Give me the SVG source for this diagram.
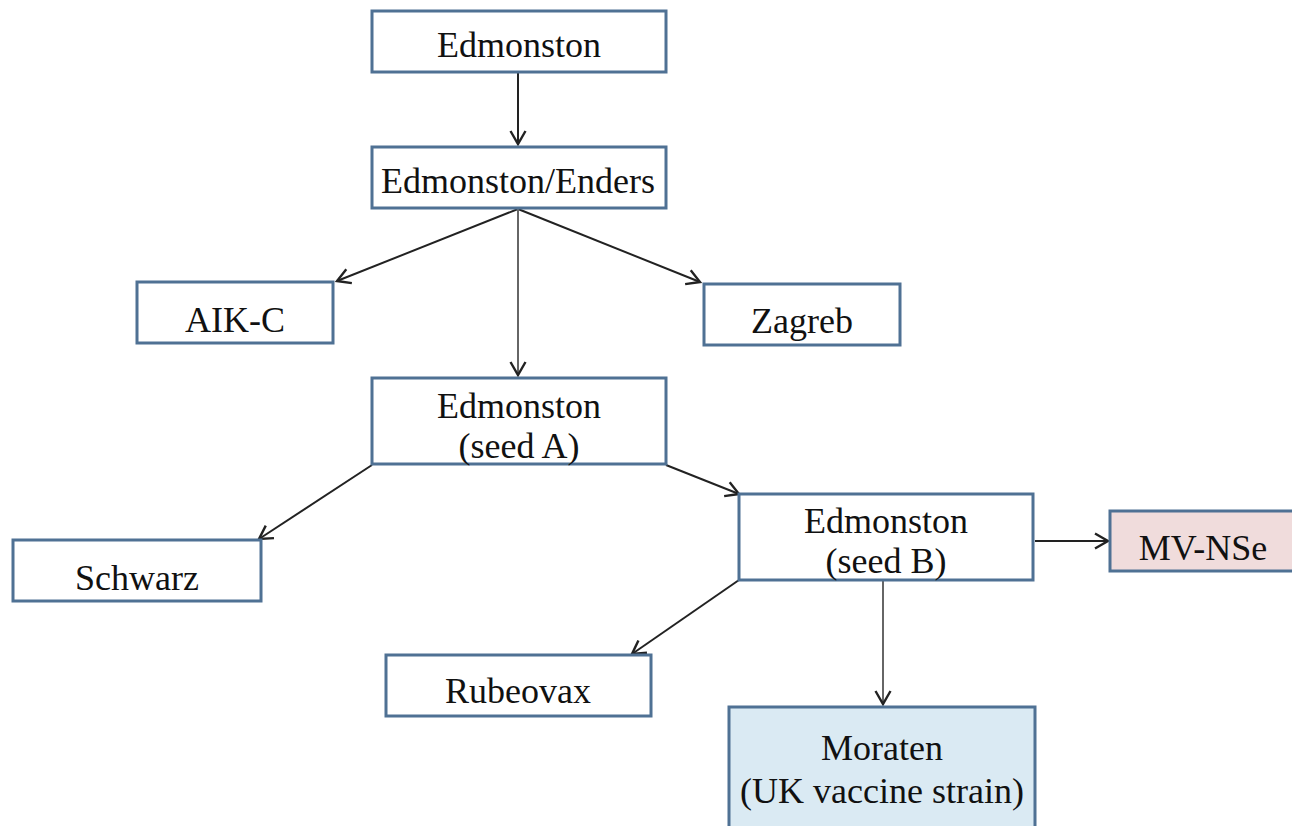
<svg xmlns="http://www.w3.org/2000/svg" width="1292" height="826" viewBox="0 0 1292 826">
<style>
.box{fill:#ffffff;stroke:#4f7194;stroke-width:3}
.t{font-family:"Liberation Serif","Times New Roman",serif;font-size:36px;fill:#111;text-anchor:middle}
.c{fill:none;stroke:#222;stroke-width:2}
.cg{fill:none;stroke:#666;stroke-width:2}
</style>
<defs>
<marker id="ah" markerWidth="18" markerHeight="18" refX="15" refY="9" orient="auto" markerUnits="userSpaceOnUse">
<path d="M2,1.5 L15,9 L2,16.5" fill="none" stroke="#222" stroke-width="2.4"/>
</marker>
</defs>
<rect width="1292" height="826" fill="#ffffff"/>
<g id="connectors">
<line class="c" x1="518" y1="72" x2="518" y2="144" marker-end="url(#ah)" stroke-width="2.5"/>
<line class="c" x1="518" y1="209" x2="337" y2="281" marker-end="url(#ah)"/>
<line class="c" x1="518" y1="209" x2="700" y2="282" marker-end="url(#ah)"/>
<line class="cg" x1="518" y1="209" x2="518" y2="375" marker-end="url(#ah)"/>
<line class="c" x1="372" y1="465" x2="259" y2="539" marker-end="url(#ah)"/>
<line class="c" x1="666" y1="465" x2="739" y2="494" marker-end="url(#ah)" stroke-width="3"/>
<line class="c" x1="739" y1="580" x2="632" y2="654" marker-end="url(#ah)"/>
<line class="c" x1="1035" y1="541" x2="1108" y2="541" marker-end="url(#ah)" stroke-width="2.5"/>
<line class="cg" x1="883" y1="581" x2="883" y2="704" marker-end="url(#ah)"/>
</g>
<g id="edmonston">
<rect class="box" x="372" y="11" width="294" height="61"/>
<text class="t" x="519" y="57">Edmonston</text>
</g>
<g id="enders">
<rect class="box" x="372" y="147" width="294" height="61"/>
<text class="t" x="518" y="193">Edmonston/Enders</text>
</g>
<g id="aikc">
<rect class="box" x="137" y="282" width="196" height="61"/>
<text class="t" x="235" y="332">AIK-C</text>
</g>
<g id="zagreb">
<rect class="box" x="704" y="284" width="196" height="61"/>
<text class="t" x="802" y="333">Zagreb</text>
</g>
<g id="seedA">
<rect class="box" x="372" y="378" width="294" height="86"/>
<text class="t" x="519" y="418">Edmonston</text>
<text class="t" x="519" y="458">(seed A)</text>
</g>
<g id="schwarz">
<rect class="box" x="13" y="540" width="248" height="61"/>
<text class="t" x="137" y="590">Schwarz</text>
</g>
<g id="seedB">
<rect class="box" x="739" y="494" width="294" height="86"/>
<text class="t" x="886" y="533">Edmonston</text>
<text class="t" x="886" y="573">(seed B)</text>
</g>
<g id="mvnse">
<rect class="box" x="1110" y="511" width="190" height="60" style="fill:#f0dcdc"/>
<text class="t" x="1203" y="560">MV-NSe</text>
</g>
<g id="rubeovax">
<rect class="box" x="386" y="655" width="265" height="61"/>
<text class="t" x="518" y="703">Rubeovax</text>
</g>
<g id="moraten">
<rect class="box" x="729" y="707" width="306" height="130" style="fill:#daeaf3"/>
<text class="t" x="882" y="760">Moraten</text>
<text class="t" x="882" y="803">(UK vaccine strain)</text>
</g>
</svg>
